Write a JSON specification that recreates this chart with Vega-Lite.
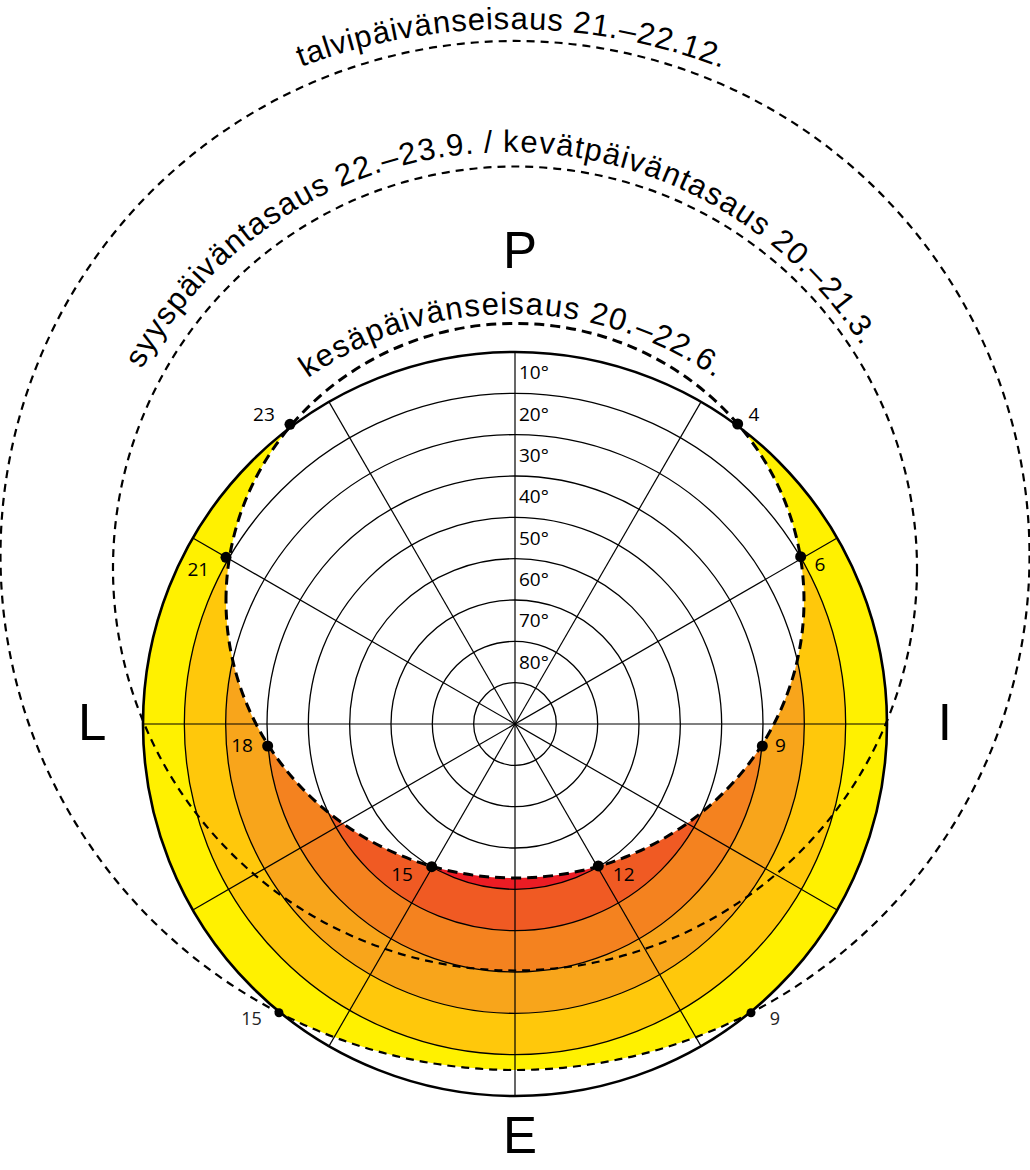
{
  "$schema": "https://vega.github.io/schema/vega-lite/v6.json",
  "width": 1030,
  "height": 1170,
  "autosize": {"type": "none"},
  "padding": 0,
  "background": "white",
  "config": {"view": {"stroke": null}},
  "datasets": {
    "bands": [
      {"band": "0-10", "x": 0, "y": 0, "r": 90},
      {"band": "10-20", "x": 0, "y": 0, "r": 80},
      {"band": "20-30", "x": 0, "y": 0, "r": 70},
      {"band": "30-40", "x": 0, "y": 0, "r": 60},
      {"band": "40-50", "x": 0, "y": 0, "r": 50},
      {"band": "50-60", "x": 0, "y": 0, "r": 40}
    ],
    "summer": [{"path": "kesäpäivänseisaus", "x": 0, "y": 29.83, "r": 69.92}],
    "mask": [{"x": 0, "y": 40.77, "r": 131.73}],
    "paths": [
      {"path": "päiväntasaus", "x": 0, "y": 37.62, "r": 97.26},
      {"path": "talvipäivänseisaus", "x": 0, "y": 40.77, "r": 124.48}
    ],
    "rings": [
      {"x": 0, "y": 0, "r": 10}, {"x": 0, "y": 0, "r": 20}, {"x": 0, "y": 0, "r": 30}, {"x": 0, "y": 0, "r": 40},
      {"x": 0, "y": 0, "r": 50}, {"x": 0, "y": 0, "r": 60}, {"x": 0, "y": 0, "r": 70}, {"x": 0, "y": 0, "r": 80}
    ],
    "horizon": [{"x": 0, "y": 0, "r": 90}],
    "spokes": [
      {"x": 0, "y": 90, "x2": 0, "y2": -90},
      {"x": 45, "y": 77.942, "x2": -45, "y2": -77.942},
      {"x": 77.942, "y": 45, "x2": -77.942, "y2": -45},
      {"x": 90, "y": 0, "x2": -90, "y2": 0},
      {"x": 77.942, "y": -45, "x2": -77.942, "y2": 45},
      {"x": 45, "y": -77.942, "x2": -45, "y2": 77.942}
    ],
    "hours": [
      {"h": "23", "season": "kesä", "x": -54.44, "y": 72.51, "lx": -60.73, "ly": 74.76},
      {"h": "4", "season": "kesä", "x": 53.87, "y": 72.58, "lx": 57.82, "ly": 74.76},
      {"h": "21", "season": "kesä", "x": -69.92, "y": 40.33, "lx": -76.62, "ly": 37.26},
      {"h": "6", "season": "kesä", "x": 69.11, "y": 40.48, "lx": 73.79, "ly": 38.47},
      {"h": "18", "season": "kesä", "x": -59.84, "y": -5.32, "lx": -66.05, "ly": -5.44},
      {"h": "9", "season": "kesä", "x": 59.84, "y": -5.32, "lx": 64.23, "ly": -5.44},
      {"h": "15", "season": "kesä", "x": -20.16, "y": -34.52, "lx": -27.34, "ly": -36.6},
      {"h": "12", "season": "kesä", "x": 20.16, "y": -34.35, "lx": 26.3, "ly": -36.65}
    ],
    "winterHours": [
      {"h": "15", "season": "talvi", "x": -57.1, "y": -69.85, "lx": -63.73, "ly": -71.61},
      {"h": "9", "season": "talvi", "x": 57.1, "y": -69.85, "lx": 62.88, "ly": -71.61}
    ],
    "degrees": [
      {"lab": "10°", "x": 0, "y": 84.8}, {"lab": "20°", "x": 0, "y": 74.8}, {"lab": "30°", "x": 0, "y": 64.8},
      {"lab": "40°", "x": 0, "y": 54.8}, {"lab": "50°", "x": 0, "y": 44.8}, {"lab": "60°", "x": 0, "y": 34.8},
      {"lab": "70°", "x": 0, "y": 24.8}, {"lab": "80°", "x": 0, "y": 14.8}
    ],
    "cardinals": [
      {"lab": "P", "x": 1.2, "y": 110.25},
      {"lab": "E", "x": 1.2, "y": -103.72},
      {"lab": "L", "x": -102.3, "y": -3.87},
      {"lab": "I", "x": 104.0, "y": -3.87}
    ],
    "textpaths": [
      {"g": "A", "cx": -1.21, "cy": 24.44, "R": 143.71},
      {"g": "B", "cx": -1.57, "cy": 37.26, "R": 101.13},
      {"g": "C", "cx": -0.73, "cy": 13.06, "R": 86.13}
    ],
    "chars": [
      {"g": "A", "ch": "t", "t": -20.18}, {"g": "A", "ch": "a", "t": -18.86}, {"g": "A", "ch": "l", "t": -17.63},
      {"g": "A", "ch": "v", "t": -16.48}, {"g": "A", "ch": "i", "t": -15.34}, {"g": "A", "ch": "p", "t": -14.11},
      {"g": "A", "ch": "ä", "t": -12.34}, {"g": "A", "ch": "i", "t": -11.11}, {"g": "A", "ch": "v", "t": -9.97},
      {"g": "A", "ch": "ä", "t": -8.29}, {"g": "A", "ch": "n", "t": -6.53}, {"g": "A", "ch": "s", "t": -4.86},
      {"g": "A", "ch": "e", "t": -3.19}, {"g": "A", "ch": "i", "t": -1.95}, {"g": "A", "ch": "s", "t": -0.81},
      {"g": "A", "ch": "a", "t": 0.87}, {"g": "A", "ch": "u", "t": 2.63}, {"g": "A", "ch": "s", "t": 4.30},
      {"g": "A", "ch": "2", "t": 6.85}, {"g": "A", "ch": "1", "t": 8.62}, {"g": "A", "ch": ".", "t": 9.94},
      {"g": "A", "ch": "–", "t": 11.26}, {"g": "A", "ch": "2", "t": 13.02}, {"g": "A", "ch": "2", "t": 14.78},
      {"g": "A", "ch": ".", "t": 16.10}, {"g": "A", "ch": "1", "t": 17.43}, {"g": "A", "ch": "2", "t": 19.19},
      {"g": "A", "ch": ".", "t": 20.51},
      {"g": "B", "ch": "s", "t": -60.25}, {"g": "B", "ch": "y", "t": -57.95}, {"g": "B", "ch": "y", "t": -55.65},
      {"g": "B", "ch": "s", "t": -53.35}, {"g": "B", "ch": "p", "t": -50.93}, {"g": "B", "ch": "ä", "t": -48.37},
      {"g": "B", "ch": "i", "t": -46.58}, {"g": "B", "ch": "v", "t": -44.92}, {"g": "B", "ch": "ä", "t": -42.49},
      {"g": "B", "ch": "n", "t": -39.94}, {"g": "B", "ch": "t", "t": -38.02}, {"g": "B", "ch": "a", "t": -36.10},
      {"g": "B", "ch": "s", "t": -33.68}, {"g": "B", "ch": "a", "t": -31.25}, {"g": "B", "ch": "u", "t": -28.69},
      {"g": "B", "ch": "s", "t": -26.26}, {"g": "B", "ch": "2", "t": -22.56}, {"g": "B", "ch": "2", "t": -20.00},
      {"g": "B", "ch": ".", "t": -18.08}, {"g": "B", "ch": "–", "t": -16.17}, {"g": "B", "ch": "2", "t": -13.61},
      {"g": "B", "ch": "3", "t": -11.05}, {"g": "B", "ch": ".", "t": -9.14}, {"g": "B", "ch": "9", "t": -7.22},
      {"g": "B", "ch": ".", "t": -5.30}, {"g": "B", "ch": "/", "t": -2.75}, {"g": "B", "ch": "k", "t": 0.32},
      {"g": "B", "ch": "e", "t": 2.75}, {"g": "B", "ch": "v", "t": 5.18}, {"g": "B", "ch": "ä", "t": 7.60},
      {"g": "B", "ch": "t", "t": 9.52}, {"g": "B", "ch": "p", "t": 11.44}, {"g": "B", "ch": "ä", "t": 13.99},
      {"g": "B", "ch": "i", "t": 15.78}, {"g": "B", "ch": "v", "t": 17.44}, {"g": "B", "ch": "ä", "t": 19.87},
      {"g": "B", "ch": "n", "t": 22.43}, {"g": "B", "ch": "t", "t": 24.35}, {"g": "B", "ch": "a", "t": 26.26},
      {"g": "B", "ch": "s", "t": 28.69}, {"g": "B", "ch": "a", "t": 31.12}, {"g": "B", "ch": "u", "t": 33.67},
      {"g": "B", "ch": "s", "t": 36.10}, {"g": "B", "ch": "2", "t": 39.81}, {"g": "B", "ch": "0", "t": 42.36},
      {"g": "B", "ch": ".", "t": 44.28}, {"g": "B", "ch": "–", "t": 46.20}, {"g": "B", "ch": "2", "t": 48.76},
      {"g": "B", "ch": "1", "t": 51.31}, {"g": "B", "ch": ".", "t": 53.23}, {"g": "B", "ch": "3", "t": 55.15},
      {"g": "B", "ch": ".", "t": 57.06},
      {"g": "C", "ch": "k", "t": -33.74}, {"g": "C", "ch": "e", "t": -30.88}, {"g": "C", "ch": "s", "t": -28.01},
      {"g": "C", "ch": "ä", "t": -25.15}, {"g": "C", "ch": "p", "t": -22.13}, {"g": "C", "ch": "ä", "t": -19.11},
      {"g": "C", "ch": "i", "t": -17.00}, {"g": "C", "ch": "v", "t": -15.04}, {"g": "C", "ch": "ä", "t": -12.17},
      {"g": "C", "ch": "n", "t": -9.15}, {"g": "C", "ch": "s", "t": -6.29}, {"g": "C", "ch": "e", "t": -3.42},
      {"g": "C", "ch": "i", "t": -1.31}, {"g": "C", "ch": "s", "t": 0.65}, {"g": "C", "ch": "a", "t": 3.52},
      {"g": "C", "ch": "u", "t": 6.53}, {"g": "C", "ch": "s", "t": 9.40}, {"g": "C", "ch": "2", "t": 13.78},
      {"g": "C", "ch": "0", "t": 16.79}, {"g": "C", "ch": ".", "t": 19.06}, {"g": "C", "ch": "–", "t": 21.32},
      {"g": "C", "ch": "2", "t": 24.34}, {"g": "C", "ch": "2", "t": 27.36}, {"g": "C", "ch": ".", "t": 29.62},
      {"g": "C", "ch": "6", "t": 31.88}, {"g": "C", "ch": ".", "t": 34.15}
    ]
  },
  "layer": [
    {
      "data": {"name": "bands"},
      "mark": {"type": "point", "shape": "circle", "filled": true, "opacity": 1, "strokeWidth": 0},
      "encoding": {
        "x": {"field": "x", "type": "quantitative", "scale": {"domain": [-124.597, 124.597], "nice": false, "zero": false}, "axis": null},
        "y": {"field": "y", "type": "quantitative", "scale": {"domain": [-107.903, 175.161], "nice": false, "zero": false}, "axis": null},
        "size": {"field": "r", "type": "quantitative", "scale": {"type": "pow", "exponent": 2, "domain": [0, 150], "range": [0, 1537600]}, "legend": null},
        "color": {"field": "band", "type": "nominal", "scale": {"domain": ["0-10", "10-20", "20-30", "30-40", "40-50", "50-60"], "range": ["#FFF100", "#FFC80B", "#F8A51B", "#F4821F", "#F05A23", "#EC1C24"]}, "legend": null}
      }
    },
    {
      "data": {"name": "summer"},
      "mark": {"type": "point", "shape": "M-1,0A1,0.9595,0,1,1,1,0A1,0.9595,0,1,1,-1,0Z", "filled": true, "fill": "white", "opacity": 1, "strokeWidth": 0},
      "encoding": {
        "x": {"field": "x", "type": "quantitative", "axis": null},
        "y": {"field": "y", "type": "quantitative", "axis": null},
        "size": {"field": "r", "type": "quantitative", "legend": null}
      }
    },
    {
      "data": {"name": "mask"},
      "mark": {"type": "point", "shape": "circle", "filled": false, "stroke": "white", "strokeWidth": 60, "opacity": 1},
      "encoding": {
        "x": {"field": "x", "type": "quantitative", "axis": null},
        "y": {"field": "y", "type": "quantitative", "axis": null},
        "size": {"field": "r", "type": "quantitative", "legend": null}
      }
    },
    {
      "data": {"name": "rings"},
      "mark": {"type": "point", "shape": "circle", "filled": false, "stroke": "black", "strokeWidth": 1.3, "opacity": 1},
      "encoding": {
        "x": {"field": "x", "type": "quantitative", "axis": null},
        "y": {"field": "y", "type": "quantitative", "axis": null},
        "size": {"field": "r", "type": "quantitative", "legend": null}
      }
    },
    {
      "data": {"name": "spokes"},
      "mark": {"type": "rule", "stroke": "black", "strokeWidth": 1.2},
      "encoding": {
        "x": {"field": "x", "type": "quantitative", "axis": null},
        "y": {"field": "y", "type": "quantitative", "axis": null},
        "x2": {"field": "x2"},
        "y2": {"field": "y2"}
      }
    },
    {
      "data": {"name": "horizon"},
      "mark": {"type": "point", "shape": "circle", "filled": false, "stroke": "black", "strokeWidth": 2.6, "opacity": 1},
      "encoding": {
        "x": {"field": "x", "type": "quantitative", "axis": null},
        "y": {"field": "y", "type": "quantitative", "axis": null},
        "size": {"field": "r", "type": "quantitative", "legend": null}
      }
    },
    {
      "data": {"name": "paths"},
      "mark": {"type": "point", "shape": "circle", "filled": false, "stroke": "black", "strokeWidth": 2.2, "strokeDash": [8, 6], "opacity": 1},
      "encoding": {
        "x": {"field": "x", "type": "quantitative", "axis": null},
        "y": {"field": "y", "type": "quantitative", "axis": null},
        "size": {"field": "r", "type": "quantitative", "legend": null}
      }
    },
    {
      "data": {"name": "summer"},
      "mark": {"type": "point", "shape": "M-1,0A1,0.9595,0,1,1,1,0A1,0.9595,0,1,1,-1,0Z", "filled": false, "stroke": "black", "strokeWidth": 3, "strokeDash": [10, 6], "opacity": 1},
      "encoding": {
        "x": {"field": "x", "type": "quantitative", "axis": null},
        "y": {"field": "y", "type": "quantitative", "axis": null},
        "size": {"field": "r", "type": "quantitative", "legend": null}
      }
    },
    {
      "data": {"name": "hours"},
      "mark": {"type": "point", "shape": "circle", "filled": true, "fill": "black", "size": 121, "opacity": 1, "strokeWidth": 0},
      "encoding": {
        "x": {"field": "x", "type": "quantitative", "axis": null},
        "y": {"field": "y", "type": "quantitative", "axis": null}
      }
    },
    {
      "data": {"name": "winterHours"},
      "mark": {"type": "point", "shape": "circle", "filled": true, "fill": "black", "size": 81, "opacity": 1, "strokeWidth": 0},
      "encoding": {
        "x": {"field": "x", "type": "quantitative", "axis": null},
        "y": {"field": "y", "type": "quantitative", "axis": null}
      }
    },
    {
      "data": {"name": "hours"},
      "mark": {"type": "text", "font": "Open Sans", "fontSize": 19, "align": "center", "baseline": "middle", "color": "black"},
      "encoding": {
        "x": {"field": "lx", "type": "quantitative", "axis": null},
        "y": {"field": "ly", "type": "quantitative", "axis": null},
        "text": {"field": "h"}
      }
    },
    {
      "data": {"name": "winterHours"},
      "mark": {"type": "text", "font": "Open Sans", "fontSize": 18, "align": "center", "baseline": "middle", "color": "#222222"},
      "encoding": {
        "x": {"field": "lx", "type": "quantitative", "axis": null},
        "y": {"field": "ly", "type": "quantitative", "axis": null},
        "text": {"field": "h"}
      }
    },
    {
      "data": {"name": "degrees"},
      "mark": {"type": "text", "font": "Open Sans", "fontSize": 19, "align": "left", "baseline": "middle", "dx": 4, "color": "black"},
      "encoding": {
        "x": {"field": "x", "type": "quantitative", "axis": null},
        "y": {"field": "y", "type": "quantitative", "axis": null},
        "text": {"field": "lab"}
      }
    },
    {
      "data": {"name": "cardinals"},
      "mark": {"type": "text", "font": "Liberation Sans", "fontSize": 51, "align": "center", "baseline": "alphabetic", "color": "black"},
      "encoding": {
        "x": {"field": "x", "type": "quantitative", "axis": null},
        "y": {"field": "y", "type": "quantitative", "axis": null},
        "text": {"field": "lab"}
      }
    },
    {
      "data": {"name": "chars"},
      "transform": [{"lookup": "g", "from": {"data": {"name": "textpaths"}, "key": "g", "fields": ["cx", "cy", "R"]}}],
      "mark": {"type": "text", "font": "Liberation Sans", "fontSize": 31, "align": "center", "baseline": "alphabetic", "color": "black"},
      "encoding": {
        "x": {"field": "cx", "type": "quantitative", "axis": null},
        "y": {"field": "cy", "type": "quantitative", "axis": null},
        "radius": {"field": "R", "type": "quantitative", "scale": {"type": "linear", "domain": [0, 150], "range": [0, 620], "zero": true}},
        "theta": {"field": "t", "type": "quantitative", "stack": null, "scale": {"domain": [-180, 180], "range": [-3.14159265, 3.14159265]}},
        "angle": {"field": "t", "type": "quantitative", "scale": null},
        "text": {"field": "ch"}
      }
    }
  ]
}
